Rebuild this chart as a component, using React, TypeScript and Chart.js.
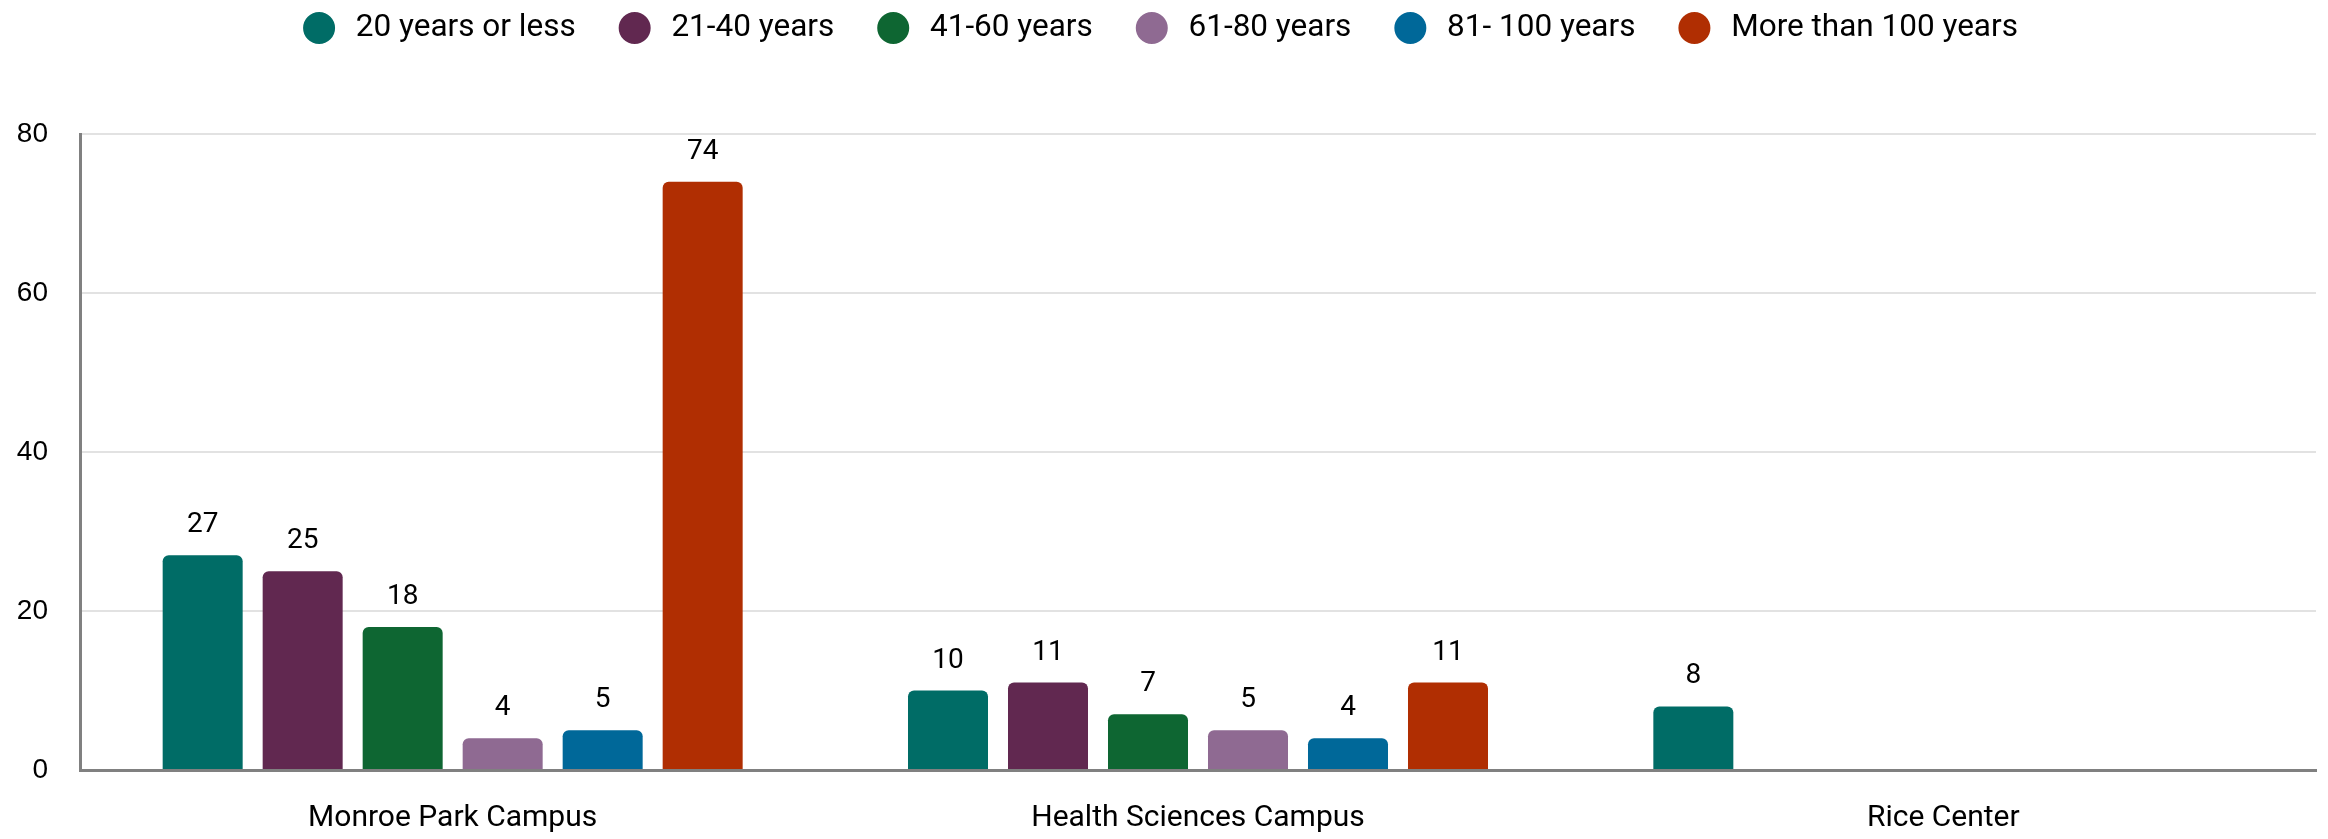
import React, { useEffect, useRef } from "react";
import { Chart, registerables } from "chart.js";

Chart.register(...registerables);

const categories = ["Monroe Park Campus", "Health Sciences Campus", "Rice Center"];
const seriesLabels = [
  "20 years or less",
  "21-40 years",
  "41-60 years",
  "61-80 years",
  "81- 100 years",
  "More than 100 years",
];
const years20OrLess = [27, 10, 8];
const years21to40 = [25, 11, null];
const years41to60 = [18, 7, null];
const years61to80 = [4, 5, null];
const years81to100 = [5, 4, null];
const moreThan100 = [74, 11, null];
const seriesColors = ["#006c66", "#612850", "#0e6632", "#8f6a92", "#006899", "#b02e02"];
const yTicks = [0, 20, 40, 60, 80];

const seriesValues = [years20OrLess, years21to40, years41to60, years61to80, years81to100, moreThan100];

const dataLabelPlugin = {
  id: "dataLabels",
  afterDatasetsDraw(chart: any) {
    const ctx = chart.ctx;
    ctx.save();
    ctx.font = "28px Roboto";
    ctx.fillStyle = "#000";
    ctx.textAlign = "center";
    ctx.textBaseline = "middle";
    chart.data.datasets.forEach((ds: any, i: number) => {
      const meta = chart.getDatasetMeta(i);
      meta.data.forEach((el: any, j: number) => {
        const v = ds.data[j];
        if (v === null || v === undefined) return;
        ctx.fillText(String(v), el.x, el.y - 30);
      });
    });
    ctx.restore();
  },
};

const legendHeightPlugin = {
  id: "legendHeight",
  beforeInit(chart: any) {
    const lg = chart.legend;
    if (!lg) return;
    const orig = lg.fit;
    lg.fit = function () {
      orig.call(this);
      this.height = 165;
    };
  },
};

export default function App() {
  const canvasRef = useRef<HTMLCanvasElement | null>(null);

  useEffect(() => {
    const canvas = canvasRef.current;
    if (!canvas) return;
    Chart.defaults.font.family = "Roboto";
    const chart = new Chart(canvas, {
      type: "bar",
      data: {
        labels: categories,
        datasets: seriesLabels.map((label, i) => ({
          label,
          data: seriesValues[i],
          backgroundColor: seriesColors[i],
          borderRadius: 6,
          borderWidth: 0,
          barPercentage: 0.8,
          categoryPercentage: 0.805,
        })),
      },
      options: {
        responsive: false,
        animation: false,
        devicePixelRatio: 1,
        layout: { padding: { top: -31, right: 12, left: 0, bottom: 0 } },
        plugins: {
          tooltip: { enabled: false },
          legend: {
            position: "top",
            align: "center",
            labels: {
              color: "#000",
              font: { family: "Roboto", size: 31.5 },
              boxWidth: 42,
              boxHeight: 42,
              padding: 38,
              useBorderRadius: true,
              borderRadius: 21,
              generateLabels: (c: any) => {
                const items = (Chart.defaults.plugins.legend.labels as any).generateLabels(c);
                return items.map((it: any) => ({
                  ...it,
                  lineWidth: 10,
                  strokeStyle: "#ffffff",
                  borderRadius: 21,
                }));
              },
            },
          },
        },
        scales: {
          x: {
            grid: { display: false, drawTicks: false },
            border: { display: true, color: "#808080", width: 3 },
            ticks: { padding: 30, color: "#000", font: { family: "Roboto", size: 30 } },
            afterFit(scale: any) {
              scale.height = 69;
            },
          },
          y: {
            min: 0,
            max: 80,
            grid: { color: "#e2e2e2", lineWidth: 2, drawTicks: false },
            border: { display: true, color: "#808080", width: 3 },
            ticks: {
              padding: 32,
              color: "#000",
              font: { family: "Liberation Sans", size: 28 },
            },
            afterBuildTicks(scale: any) {
              scale.ticks = yTicks.map((v) => ({ value: v }));
            },
            afterFit(scale: any) {
              scale.width = 80;
            },
          },
        },
      },
      plugins: [dataLabelPlugin, legendHeightPlugin],
    } as any);
    return () => chart.destroy();
  }, []);

  return (
    <div style={{ position: "fixed", left: 0, top: 0, width: 2328, height: 839, background: "#fff" }}>
      <canvas ref={canvasRef} width={2328} height={839} style={{ display: "block" }} />
    </div>
  );
}
